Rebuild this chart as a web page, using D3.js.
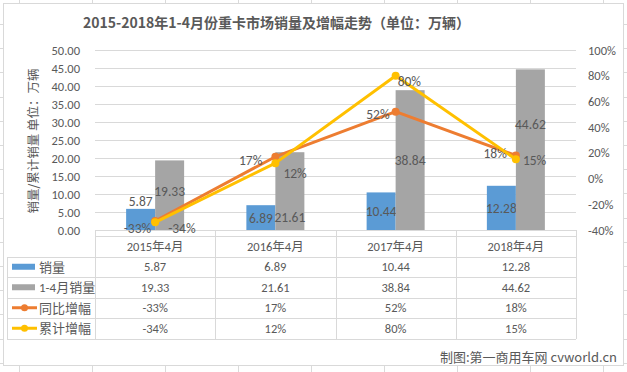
<!DOCTYPE html>
<html>
<head>
<meta charset="utf-8">
<script src="https://cdn.jsdelivr.net/npm/d3@7"></script>
<style>
  body { margin: 0; background: #fff; }
  text { font-family: Carlito, "Noto Sans CJK SC", sans-serif; fill: #595959; }
  text.cjk { font-family: "Noto Sans CJK SC", sans-serif; }
</style>
</head>
<body>
<div id="vis"></div>
<script>
'use strict'

// data
const categories = ['2015年4月', '2016年4月', '2017年4月', '2018年4月']
const monthSales = [5.87, 6.89, 10.44, 12.28]
const cumSales = [19.33, 21.61, 38.84, 44.62]
const yoyGrowth = [-33, 17, 52, 18]
const cumGrowth = [-34, 12, 80, 15]
const leftTicks = [0, 5, 10, 15, 20, 25, 30, 35, 40, 45, 50]
const rightTicks = [-40, -20, 0, 20, 40, 60, 80, 100]

const seriesNames = ['销量', '1-4月销量', '同比增幅', '累计增幅']
const colors = ['#5B9BD5', '#A5A5A5', '#ED7D31', '#FFC000']

//
// CHART CONFIG
//

const totalWidth = 627
const totalHeight = 372
const plot = { left: 95, right: 576, top: 50, bottom: 230 }
const frame = { x: 3, y: 3, w: 620, h: 362 }
const table = { top: 236, rowH: 20.5, legendLeft: 7 }

// hand-placed label nudges seen in the reference
const barLabelDy = [[-18, -4], [0, 26], [0, 0], [0, -26]]
const yoyLabelNudge = [[2, 7], [-7, 3], [0, 2], [-3, -2]]
const cumLabelNudge = [[7, 6], [2, 10], [-4, 5], [1, 1]]

const svg = d3.select('div#vis')
  .append('svg')
    .attr('width', totalWidth)
    .attr('height', totalHeight)

// spreadsheet cells behind the chart
const sheet = svg.append('g').attr('stroke', '#DADADA').attr('stroke-width', 1)
d3.range(19, totalWidth, 73).forEach(x => {
  sheet.append('line').attr('x1', x + 0.5).attr('x2', x + 0.5).attr('y1', 0).attr('y2', totalHeight)
})
d3.range(0, 16).map(i => Math.round(24 + i * 24.2)).forEach(y => {
  sheet.append('line').attr('x1', 0).attr('x2', totalWidth).attr('y1', y + 0.5).attr('y2', y + 0.5)
})

svg.append('rect')
  .attr('x', frame.x + 0.5).attr('y', frame.y + 0.5)
  .attr('width', frame.w).attr('height', frame.h)
  .attr('fill', '#fff').attr('stroke', '#D9D9D9')

//
// SCALES
//

const x = d3.scaleBand()
  .domain(categories)
  .range([plot.left, plot.right])

const inner = d3.scaleBand()
  .domain([0, 1])
  .range([-29, 29])

const yLeft = d3.scaleLinear()
  .domain([0, 50])
  .range([plot.bottom, plot.top])

const yRight = d3.scaleLinear()
  .domain([-40, 100])
  .range([plot.bottom, plot.top])

//
// GRID & AXES
//

svg.append('g')
  .selectAll('line')
  .data(leftTicks)
  .join('line')
    .attr('x1', plot.left).attr('x2', plot.right)
    .attr('y1', d => Math.round(yLeft(d)) + 0.5)
    .attr('y2', d => Math.round(yLeft(d)) + 0.5)
    .attr('stroke', '#D9D9D9')

const leftAxis = d3.axisLeft(yLeft).tickValues(leftTicks).tickFormat(d3.format('.2f')).tickSize(0).tickPadding(15)
svg.append('g')
  .attr('transform', 'translate(' + plot.left + ',0)')
  .call(leftAxis)
  .call(g => g.select('.domain').remove())
  .selectAll('text')
    .style('font-family', 'Carlito')
    .style('font-size', '12.5px')
    .attr('fill', '#595959')

const rightAxis = d3.axisRight(yRight).tickValues(rightTicks).tickFormat(d => d + '%').tickSize(0).tickPadding(12)
svg.append('g')
  .attr('transform', 'translate(' + plot.right + ',0)')
  .call(rightAxis)
  .call(g => g.select('.domain').remove())
  .selectAll('text')
    .style('font-family', 'Carlito')
    .style('font-size', '12.5px')
    .attr('fill', '#595959')

//
// BARS
//

const barSeries = [monthSales, cumSales]
barSeries.forEach((values, s) => {
  const g = svg.append('g')
  g.selectAll('rect')
    .data(values)
    .join('rect')
      .attr('x', (d, i) => x(categories[i]) + x.bandwidth() / 2 + inner(s))
      .attr('width', inner.bandwidth())
      .attr('y', d => yLeft(d))
      .attr('height', d => yLeft(0) - yLeft(d))
      .attr('fill', colors[s])
  g.selectAll('text')
    .data(values)
    .join('text')
      .attr('x', (d, i) => x(categories[i]) + x.bandwidth() / 2 + inner(s) + inner.bandwidth() / 2)
      .attr('y', (d, i) => (yLeft(d) + yLeft(0)) / 2 + barLabelDy[i][s] + 5)
      .attr('text-anchor', 'middle')
      .style('font-size', '13.5px')
      .attr('fill', '#404040')
      .text(d => d3.format('.2f')(d))
})

//
// LINES
//

const lineSeries = [
  { values: yoyGrowth, color: colors[2], side: 'left', nudge: yoyLabelNudge }
, { values: cumGrowth, color: colors[3], side: 'right', nudge: cumLabelNudge }
]

const line = d3.line()
  .x((d, i) => x(categories[i]) + x.bandwidth() / 2)
  .y(d => yRight(d))

lineSeries.forEach(ser => {
  const g = svg.append('g')
  g.append('path')
    .attr('d', line(ser.values))
    .attr('fill', 'none')
    .attr('stroke', ser.color)
    .attr('stroke-width', 3)
    .attr('stroke-linejoin', 'round')
  g.selectAll('circle')
    .data(ser.values)
    .join('circle')
      .attr('cx', (d, i) => x(categories[i]) + x.bandwidth() / 2)
      .attr('cy', d => yRight(d))
      .attr('r', 4)
      .attr('fill', ser.color)
  g.selectAll('text')
    .data(ser.values)
    .join('text')
      .attr('x', (d, i) => x(categories[i]) + x.bandwidth() / 2 + (ser.side === 'left' ? -6 : 6) + ser.nudge[i][0])
      .attr('y', (d, i) => yRight(d) + 5 + ser.nudge[i][1])
      .attr('text-anchor', ser.side === 'left' ? 'end' : 'start')
      .style('font-size', '13.5px')
      .attr('fill', '#404040')
      .text(d => d + '%')
})

//
// DATA TABLE
//

const rows = [
  monthSales.map(d3.format('.2f'))
, cumSales.map(d3.format('.2f'))
, yoyGrowth.map(d => d + '%')
, cumGrowth.map(d => d + '%')
]
const rowTop = i => table.top + table.rowH * i
const tbl = svg.append('g')
const tableBottom = rowTop(5)

// grid lines
tbl.append('line')
  .attr('x1', plot.left).attr('x2', plot.right)
  .attr('y1', table.top + 0.5).attr('y2', table.top + 0.5)
  .attr('stroke', '#D9D9D9')
d3.range(1, 6).forEach(i => {
  tbl.append('line')
    .attr('x1', table.legendLeft).attr('x2', plot.right)
    .attr('y1', Math.round(rowTop(i)) + 0.5).attr('y2', Math.round(rowTop(i)) + 0.5)
    .attr('stroke', '#D9D9D9')
})
categories.concat(['end']).forEach((c, i) => {
  const xx = Math.round(plot.left + x.step() * i) + 0.5
  tbl.append('line')
    .attr('x1', xx).attr('x2', xx)
    .attr('y1', plot.bottom).attr('y2', Math.round(tableBottom))
    .attr('stroke', '#D9D9D9')
})
tbl.append('line')
  .attr('x1', table.legendLeft + 0.5).attr('x2', table.legendLeft + 0.5)
  .attr('y1', Math.round(rowTop(1))).attr('y2', Math.round(tableBottom))
  .attr('stroke', '#D9D9D9')

// header
tbl.selectAll('text.head')
  .data(categories)
  .join('text')
    .classed('head', true)
    .attr('x', d => x(d) + x.bandwidth() / 2)
    .attr('y', (rowTop(0) + rowTop(1)) / 2 + 4.5)
    .attr('text-anchor', 'middle')
    .style('font-size', '12.5px')
    .text(d => d)

// body cells
rows.forEach((r, ri) => {
  const cy = (rowTop(ri + 1) + rowTop(ri + 2)) / 2
  tbl.append('g')
    .selectAll('text')
    .data(r)
    .join('text')
      .attr('x', (d, i) => x(categories[i]) + x.bandwidth() / 2)
      .attr('y', cy + 4.5)
      .attr('text-anchor', 'middle')
      .style('font-size', '12.5px')
      .text(d => d)

  // legend keys
  if (ri < 2) {
    tbl.append('rect')
      .attr('x', 12).attr('y', cy - 3)
      .attr('width', 23).attr('height', 6)
      .attr('fill', colors[ri])
  } else {
    tbl.append('line')
      .attr('x1', 12).attr('x2', 37).attr('y1', cy).attr('y2', cy)
      .attr('stroke', colors[ri]).attr('stroke-width', 3)
    tbl.append('circle')
      .attr('cx', 24.5).attr('cy', cy).attr('r', 3.5)
      .attr('fill', colors[ri])
  }
  tbl.append('text')
    .attr('x', 39)
    .attr('y', cy + 5)
    .style('font-size', '13px')
    .text(seriesNames[ri])
})

//
// TITLES
//

svg.append('text')
  .attr('class', 'cjk')
  .attr('x', 83)
  .attr('y', 28)
  .style('font-size', '14px')
  .style('font-weight', 'bold')
  .text('2015-2018年1-4月份重卡市场销量及增幅走势（单位：万辆）')

svg.append('text')
  .attr('class', 'cjk')
  .attr('transform', 'translate(38,141) rotate(-90)')
  .attr('text-anchor', 'middle')
  .style('font-size', '12.5px')
  .text('销量/累计销量 单位：万辆')

svg.append('text')
  .attr('class', 'cjk')
  .attr('x', 617)
  .attr('y', 362)
  .attr('text-anchor', 'end')
  .style('font-size', '13px')
  .attr('fill', '#404040')
  .text('制图:第一商用车网 cvworld.cn')
</script>
</body>
</html>
